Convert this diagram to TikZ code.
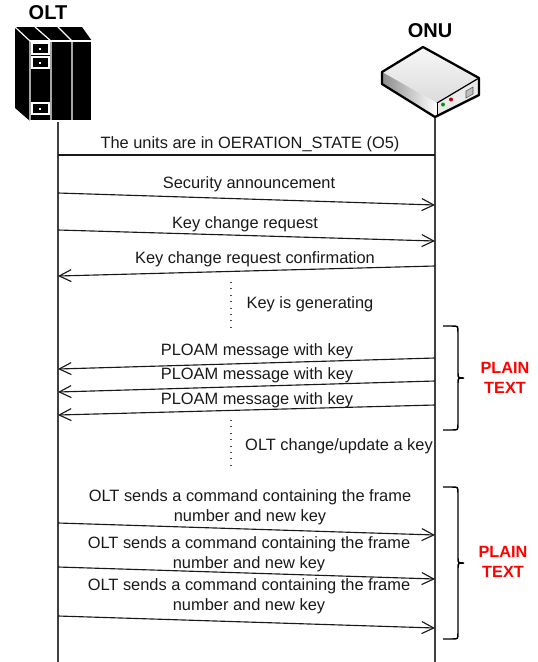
\documentclass[tikz,border=0pt]{standalone}
\usepackage{fontspec}
\setmainfont{Liberation Sans}
\usetikzlibrary{arrows.meta}

\begin{document}
\begin{tikzpicture}[
    x=0.75pt, y=-0.75pt,
    msg/.style={draw, -{Straight Barb[length=9pt,width=9pt]}, line width=0.85pt, black!90},
    life/.style={draw, line width=0.95pt, black!75},
    lbl/.style={inner sep=0pt, align=center, text=black!90, font=\fontsize{12.3}{15}\selectfont},
    title/.style={inner sep=0pt, font=\fontsize{15}{18}\selectfont\bfseries},
    plain/.style={inner sep=0pt, align=center, text=red, font=\fontsize{12.2}{14.5}\selectfont\bfseries},
    wait/.style={draw, line width=0.8pt, black!70, dash pattern=on 0.8pt off 4pt},
    bracket/.style={draw, line width=1.1pt}
]
    \useasboundingbox (0,0) rectangle (537,662);

    % OLT rack
    \fill[black] (15,27) -- (82,27) -- (92,41) -- (92,121) -- (30,121) -- (15,108) -- cycle;
    \draw[white, line width=0.9pt] (15,27) -- (30,41) -- (30,121);
    \draw[white, line width=0.9pt] (35,27) -- (51,41) -- (51,121);
    \draw[white, line width=0.9pt] (58,27) -- (72,41) -- (72,121);
    \draw[white, line width=0.9pt] (30,41) -- (92,41) -- (92,121) -- (30,121);
    \foreach \y in {43,57,103} {
        \draw[white, line width=0.9pt, fill=black] (32,\y) rectangle (49,\y+11);
        \fill[white] (38.5,\y+4.5) rectangle (41,\y+6.5);
    }

    % ONU box
    \shade[top color=black!3, bottom color=black!14] (423,47) -- (479,78) -- (437,103) -- (382,72) -- cycle;
    \shade[left color=black!45, right color=white] (382,72) -- (437,103) -- (437,117) -- (382,84) -- cycle;
    \fill[black!8] (437,103) -- (479,78) -- (479,95) -- (437,117) -- cycle;
    \draw[black, line width=0.5pt] (437,103) -- (437,117);
    \draw[black, line width=0.9pt] (437,103) -- (479,78);
    \draw[black, line width=1.7pt, line join=round] (382,84) -- (382,72) -- (423,47) -- (479,78) -- (479,95) -- (435,117) -- cycle;
    \draw[black!65, fill=black!25] (466,91) -- (473,87) -- (473,94) -- (466,98) -- cycle;
    \fill[green!60!black] (443,104.5) circle (2);
    \fill[red!70!black] (451,99.5) circle (2);

    % Titles
    \node[title] (olttitle) at (48,13) {OLT};
    \node[title] (onutitle) at (430,31) {ONU};

    % Lifelines
    \coordinate (oltTop) at (58,122);
    \coordinate (oltEnd) at (58,662);
    \coordinate (onuTop) at (435,118);
    \coordinate (onuEnd) at (435,662);
    \draw[life] (oltTop) -- (oltEnd);
    \draw[life] (onuTop) -- (onuEnd);

    % Messages
    \coordinate (a1) at (435,155);  \coordinate (b1) at (58,155);
    \coordinate (a2) at (58,193);   \coordinate (b2) at (435,205);
    \coordinate (a3) at (58,230);   \coordinate (b3) at (435,241);
    \coordinate (a4) at (435,266);  \coordinate (b4) at (58,276);
    \coordinate (a5) at (435,358);  \coordinate (b5) at (58,369);
    \coordinate (a6) at (435,381);  \coordinate (b6) at (58,392);
    \coordinate (a7) at (435,405);  \coordinate (b7) at (58,415);
    \coordinate (a8) at (58,523);   \coordinate (b8) at (435,535);
    \coordinate (a9) at (58,567);   \coordinate (b9) at (435,579);
    \coordinate (a10) at (58,616);  \coordinate (b10) at (435,628);

    \draw[line width=0.85pt, black!90] (a1) -- (b1);
    \draw[msg] (a2) -- (b2);
    \draw[msg] (a3) -- (b3);
    \draw[msg] (a4) -- (b4);
    \draw[msg] (a5) -- (b5);
    \draw[msg] (a6) -- (b6);
    \draw[msg] (a7) -- (b7);
    \draw[msg] (a8) -- (b8);
    \draw[msg] (a9) -- (b9);
    \draw[msg] (a10) -- (b10);

    % Labels
    \node[lbl] (units) at (250,144) {The units are in OERATION\_STATE (O5)};
    \node[lbl] (security) at (249,184) {Security announcement};
    \node[lbl] (keyreq) at (245,224) {Key change request};
    \node[lbl] (keyconf) at (255,259) {Key change request confirmation};
    \node[lbl] (keygen) at (310,304) {Key is generating};
    \node[lbl] (ploam1) at (257,351) {PLOAM message with key};
    \node[lbl] (ploam2) at (257,375) {PLOAM message with key};
    \node[lbl] (ploam3) at (257,400) {PLOAM message with key};
    \node[lbl] (update) at (339,446) {OLT change/update a key};
    \node[lbl] (cmd1) at (250,507.5) {OLT sends a command containing the frame\\number and new key};
    \node[lbl] (cmd2) at (249,554.5) {OLT sends a command containing the frame\\number and new key};
    \node[lbl] (cmd3) at (249,596.5) {OLT sends a command containing the frame\\number and new key};

    % Dotted waits
    \coordinate (d1) at (231,282);  \coordinate (d2) at (231,330);
    \coordinate (d3) at (231,420);  \coordinate (d4) at (231,468);
    \draw[wait] (d1) -- (d2);
    \draw[wait] (d3) -- (d4);

    % Braces
    \foreach \t/\m/\b in {326/378/430, 487/563/639} {
        \draw[bracket] (443,\t) -- (452,\t) .. controls (458,\t) .. (458,\t+6) -- (458,\m-5)
            .. controls (458,\m) .. (464,\m) .. controls (458,\m) .. (458,\m+5) -- (458,\b-6)
            .. controls (458,\b) .. (452,\b) -- (443,\b);
    }
    \node[plain] (plain1) at (505,378) {PLAIN\\TEXT};
    \node[plain] (plain2) at (503,562) {PLAIN\\TEXT};
\end{tikzpicture}
\end{document}
